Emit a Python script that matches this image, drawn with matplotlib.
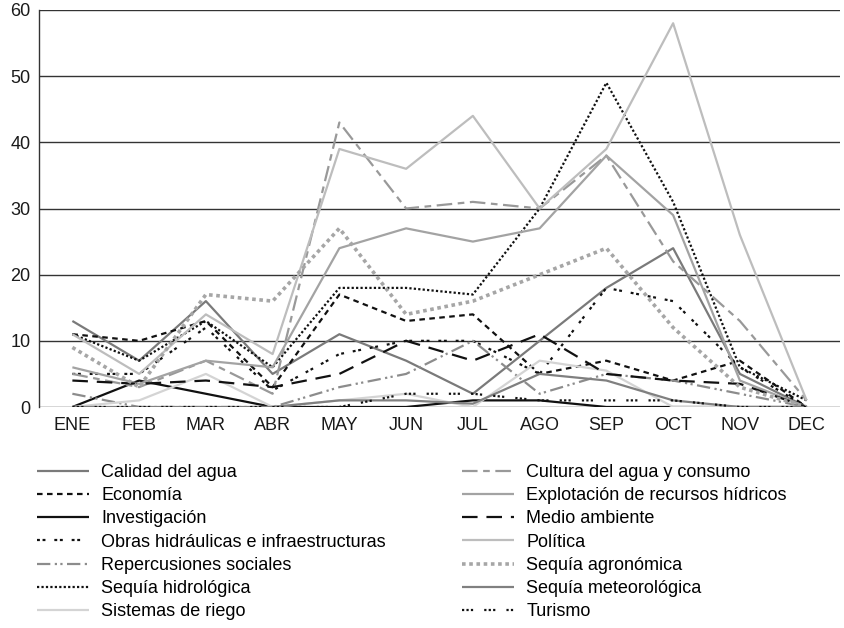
import matplotlib
matplotlib.use("Agg")
import matplotlib.pyplot as plt
from matplotlib.lines import Line2D

plt.rcParams['font.family'] = ['Liberation Sans', 'DejaVu Sans']

months = ["ENE", "FEB", "MAR", "ABR", "MAY", "JUN", "JUL", "AGO", "SEP", "OCT", "NOV", "DEC"]

calidad = [13, 7, 16, 5, 11, 7, 2, 10, 18, 24, 5, 0]
cultura = [5, 3, 7, 2, 43, 30, 31, 30, 38, 22, 13, 1]
economia = [11, 10, 13, 3, 17, 13, 14, 5, 7, 4, 7, 0]
explotacion = [6, 3.5, 7, 6, 24, 27, 25, 27, 38, 29, 4, 0]
investigacion = [0, 4, 2, 0, 0, 0, 1, 1, 0, 0, 0, 0]
medio_ambiente = [4, 3.5, 4, 3, 5, 10, 7, 11, 5, 4, 3.5, 0]
obras = [5, 5, 12, 2.5, 8, 10, 10, 5, 18, 16, 6, 0]
politica = [11, 5, 14, 8, 39, 36, 44, 30, 39, 58, 26, 1]
repercusiones = [2, 0, 0, 0, 3, 5, 10, 2, 5, 4, 2, 0]
sequia_agro = [9, 3, 17, 16, 27, 14, 16, 20, 24, 12, 3, 0]
sequia_hidro = [11, 7, 13, 6, 18, 18, 17, 30, 49, 31, 6, 1]
sequia_meteo = [0, 0, 0, 0, 1, 1, 0.5, 5, 4, 1, 0, 0]
sistemas = [0, 1, 5, 0, 1, 2, 0, 7, 5.5, 0, 0, 0]
turismo = [0, 0, 0, 0, 0, 2, 2, 1, 1, 1, 0, 0]

yticks = [0, 10, 20, 30, 40, 50, 60]

series = [
    ("Calidad del agua", calidad, dict(color="#7a7a7a", lw=1.6, ls="-")),
    ("Economía", economia, dict(color="#111111", lw=1.6, ls=(0, (2.5, 2)))),
    ("Investigación", investigacion, dict(color="#111111", lw=1.6, ls="-")),
    ("Obras hidráulicas e infraestructuras", obras, dict(color="#111111", lw=1.6, ls=(0, (1.3, 1.2, 1.3, 4)))),
    ("Repercusiones sociales", repercusiones, dict(color="#8c8c8c", lw=1.6, ls=(0, (6, 2, 1, 1.5, 1, 2)))),
    ("Sequía hidrológica", sequia_hidro, dict(color="#111111", lw=1.6, ls=(0, (1, 1)))),
    ("Sistemas de riego", sistemas, dict(color="#d4d4d4", lw=1.6, ls="-")),
    ("Cultura del agua y consumo", cultura, dict(color="#999999", lw=1.6, ls=(0, (7, 2.5, 3, 2.5)))),
    ("Explotación de recursos hídricos", explotacion, dict(color="#a3a3a3", lw=1.6, ls="-")),
    ("Medio ambiente", medio_ambiente, dict(color="#111111", lw=1.6, ls=(0, (7, 4)))),
    ("Política", politica, dict(color="#bdbdbd", lw=1.6, ls="-")),
    ("Sequía agronómica", sequia_agro, dict(color="#a6a6a6", lw=2.6, ls=(0, (1, 1)))),
    ("Sequía meteorológica", sequia_meteo, dict(color="#808080", lw=1.6, ls="-")),
    ("Turismo", turismo, dict(color="#111111", lw=1.6, ls=(0, (1, 1, 1, 1, 1, 5)))),
]

fig = plt.figure(figsize=(8.45, 6.28), dpi=100)
ax = fig.add_axes([39/845, 1-407/628, (840-39)/845, (407-10)/628])

x = list(range(len(months)))
handles = []
for name, vals, st in series:
    h, = ax.plot(x, vals, label=name, solid_capstyle="butt", dash_capstyle="butt", **st)
    handles.append(h)

ax.set_xlim(-0.5, len(months) - 0.5)
ax.set_ylim(0, 60)
ax.set_yticks(yticks)
ax.set_xticks(x)
ax.set_xticklabels(months)
ax.tick_params(axis="both", length=0, labelsize=13, colors="#1a1a1a")
ax.tick_params(axis="x", pad=7)
ax.tick_params(axis="y", pad=6)
ax.yaxis.grid(True, color="#333333", lw=1.0)
ax.set_axisbelow(True)
for s in ["top", "right", "bottom"]:
    ax.spines[s].set_visible(False)
ax.spines["left"].set_color("#333333")
ax.spines["left"].set_linewidth(1.0)

left = handles[:7]
right = handles[7:]
common = dict(frameon=False, fontsize=13, handlelength=2.9, handletextpad=0.67,
              labelspacing=0.345, borderaxespad=0, borderpad=0, loc="upper left")
leg1 = fig.legend(handles=left, labels=[h.get_label() for h in left],
                  bbox_to_anchor=(37/845, 1-464/628), **common)
leg2 = fig.legend(handles=right, labels=[h.get_label() for h in right],
                  bbox_to_anchor=(462/845, 1-464/628), **common)

fig.savefig("out.png", dpi=100)
